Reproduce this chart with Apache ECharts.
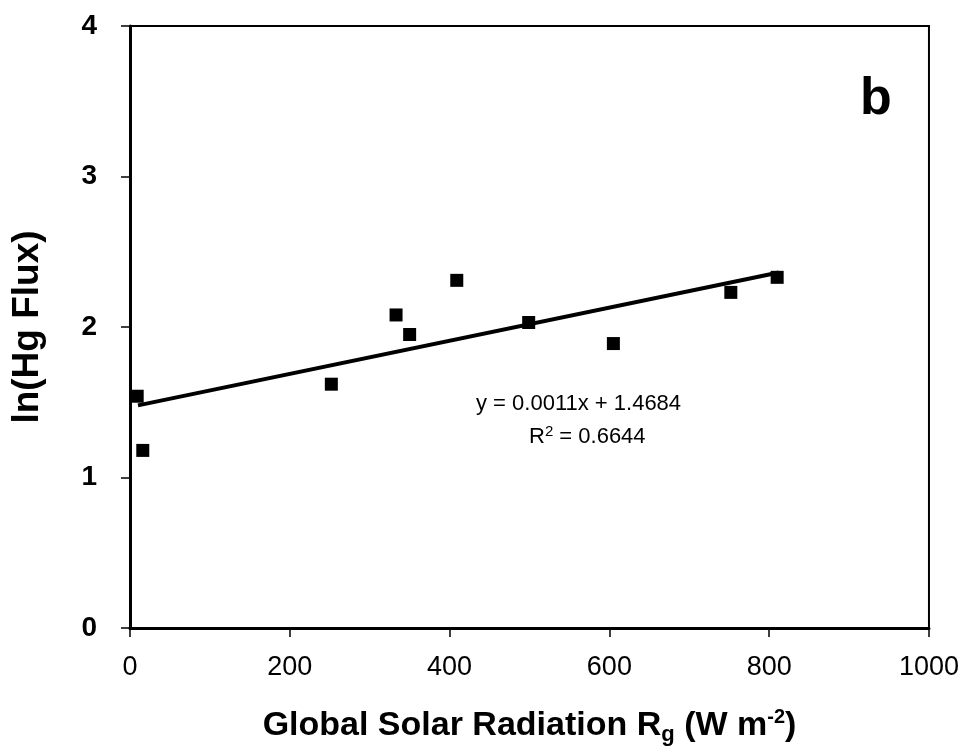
<!DOCTYPE html>
<html>
<head>
<meta charset="utf-8">
<script src="https://cdn.jsdelivr.net/npm/echarts@6/dist/echarts.min.js"></script>
<style>
  html, body { margin: 0; padding: 0; background: #fff; }
  #main { width: 962px; height: 753px; }
</style>
</head>
<body>
<div id="main"></div>
<script>
// radiation (W m-2) and ln(Hg flux)
var radiation = [9, 16, 252, 333, 350, 409, 499, 605, 752, 810];
var lnFlux = [1.54, 1.18, 1.62, 2.08, 1.95, 2.31, 2.03, 1.89, 2.23, 2.33];
// fitted line shown in the figure
var slope = 0.0011;
var intercept = 1.4684;
var fitRange = [10, 812];
var xTicks = [0, 200, 400, 600, 800, 1000];
var yTicks = [0, 1, 2, 3, 4];

var chart = echarts.init(document.getElementById('main'));

var points = radiation.map(function (x, i) { return [x, lnFlux[i]]; });
var fitLine = fitRange.map(function (x) { return [x, slope * x + intercept]; });

var font = '"Liberation Sans", Arial, sans-serif';

var option = {
  backgroundColor: '#fff',
  animation: false,
  textStyle: { fontFamily: font },
  grid: {
    left: 130, right: 30, top: 26, bottom: 125,
    show: true, borderColor: '#000', borderWidth: 2
  },
  xAxis: {
    type: 'value',
    min: xTicks[0], max: xTicks[xTicks.length - 1], interval: 200,
    axisLine: { show: true, lineStyle: { color: '#000', width: 3 } },
    axisTick: { show: true, length: 9, lineStyle: { color: '#000', width: 1.5 } },
    axisLabel: {
      color: '#000', fontSize: 27, margin: 26, fontFamily: font,
      formatter: function (v) { return String(v); }
    },
    splitLine: { show: false },
    name: '{a|Global Solar Radiation R}{sub|g}{a| (W m}{sup|-2}{a|)}',
    nameLocation: 'middle',
    nameGap: 78,
    nameTextStyle: {
      rich: {
        a: { fontSize: 34, fontWeight: 'bold', color: '#000', fontFamily: font },
        sub: { fontSize: 22, fontWeight: 'bold', color: '#000', fontFamily: font, padding: [18, 0, 0, 0] },
        sup: { fontSize: 20, fontWeight: 'bold', color: '#000', fontFamily: font, padding: [0, 0, 18, 0] }
      }
    }
  },
  yAxis: {
    type: 'value',
    min: yTicks[0], max: yTicks[yTicks.length - 1], interval: 1,
    axisLine: { show: true, lineStyle: { color: '#000', width: 3 } },
    axisTick: { show: true, length: 9, lineStyle: { color: '#000', width: 1.5 } },
    axisLabel: { color: '#000', fontSize: 28, fontWeight: 'bold', margin: 33, fontFamily: font },
    splitLine: { show: false },
    name: 'ln(Hg Flux)',
    nameLocation: 'middle',
    nameGap: 84,
    nameTextStyle: { fontSize: 37, fontWeight: 'bold', color: '#000', fontFamily: font }
  },
  series: [
    {
      name: 'fit',
      type: 'line',
      data: fitLine,
      symbol: 'none',
      lineStyle: { color: '#000', width: 4 },
      z: 2
    },
    {
      name: 'Hg flux',
      type: 'scatter',
      data: points,
      symbol: 'rect',
      symbolSize: 13,
      itemStyle: { color: '#000', opacity: 1 },
      z: 3
    }
  ],
  graphic: [
    {
      type: 'text', left: 476, top: 393,
      style: { text: 'y = 0.0011x + 1.4684', font: '22px ' + font, fill: '#000' }
    },
    {
      type: 'text', left: 529, top: 424,
      style: {
        text: '{a|R}{sup|2}{a| = 0.6644}',
        rich: {
          a: { font: '22px ' + font, fill: '#000' },
          sup: { font: '15px ' + font, fill: '#000', padding: [0, 0, 10, 0] }
        }
      }
    },
    {
      type: 'text', left: 860, top: 74,
      style: { text: 'b', font: 'bold 52px ' + font, fill: '#000' }
    }
  ]
};

chart.setOption(option);
</script>
</body>
</html>
